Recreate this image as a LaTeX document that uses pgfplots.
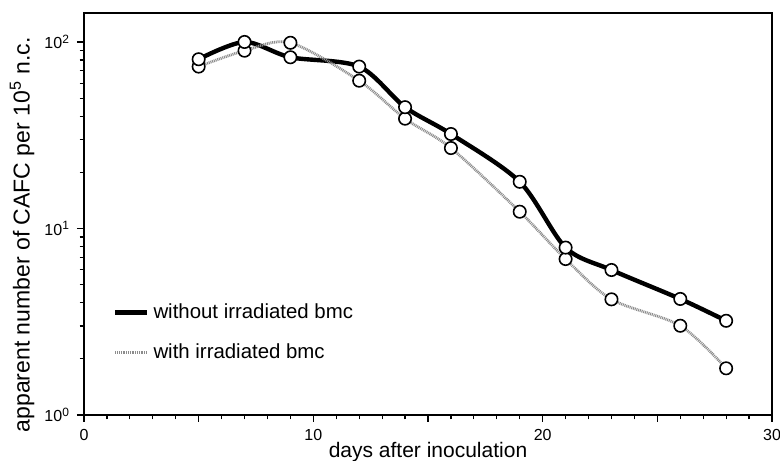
\documentclass[border=0pt]{standalone}
\usepackage{fontspec}
\setmainfont{Liberation Sans}
\usepackage{pgfplots}
\pgfplotsset{compat=1.18}
\begin{document}
\begin{tikzpicture}
\useasboundingbox (-42pt,-22.5pt) rectangle (348pt,207.5pt);
\begin{axis}[
  at={(0pt,0pt)}, anchor=south west,
  scale only axis, width=344pt, height=201pt,
  xmin=0, xmax=30, ymode=log, ymin=1, ymax=143,
  axis line style={line width=1pt},
  tick align=outside, xtick pos=bottom, ytick pos=left,
  xtick={0,5,...,30}, xticklabels={0,,10,,20,,30},
  minor x tick num=4,
  ytick={1,10,100}, yticklabels={10\textsuperscript{0},10\textsuperscript{1},10\textsuperscript{2}},
  minor ytick={2,3,4,5,6,7,8,9,20,30,40,50,60,70,80,90},
  major tick length=3.5pt, minor tick length=2.2pt,
  tick style={line width=0.6pt, black},
  xlabel={days after inoculation},
  ylabel={apparent number of CAFC per 10\textsuperscript{5} n.c.},
  every axis x label/.style={at={(axis description cs:0.5,0)}, yshift=-18.5pt, anchor=center, font=\fontsize{10.5}{11}\selectfont},
  every axis y label/.style={at={(axis description cs:-0.09,0.448)}, rotate=90, anchor=center, font=\fontsize{11.5}{12}\selectfont},
  tick label style={font=\fontsize{8}{9}\selectfont},
  legend style={draw=none, fill=none, at={(0.033,0.298)}, anchor=north west,
    font=\fontsize{10.2}{11}\selectfont, row sep=7pt},
  legend cell align=left,
  legend image code/.code={\draw[#1] (0pt,0pt) -- (16pt,0pt);},
]
% lines
\addplot[black, line width=2.2pt, smooth, forget plot] coordinates {
 (5,80.8) (7,100) (9,82.8) (12,73.8) (14,44.7) (16,32.1) (19,17.8) (21,7.9) (23,5.99) (26,4.19) (28,3.2)};
\addplot[black!45, line width=1.4pt, dash pattern=on 0.5pt off 0.4pt, smooth, forget plot] coordinates {
 (5,73.8) (7,89.8) (9,99) (12,62) (14,38.8) (16,27) (19,12.3) (21,6.86) (23,4.17) (26,3.01) (28,1.78)};
% markers
\addplot[only marks, mark=*, mark size=3.1pt, mark options={fill=white, draw=black, line width=0.8pt}, forget plot] coordinates {
 (5,73.8) (7,89.8) (9,99) (12,62) (14,38.8) (16,27) (19,12.3) (21,6.86) (23,4.17) (26,3.01) (28,1.78)};
\addplot[only marks, mark=*, mark size=3.1pt, mark options={fill=white, draw=black, line width=0.8pt}, forget plot] coordinates {
 (5,80.8) (7,100) (9,82.8) (12,73.8) (14,44.7) (16,32.1) (19,17.8) (21,7.9) (23,5.99) (26,4.19) (28,3.2)};
\addlegendimage{black, line width=2.2pt}
\addlegendentry{without irradiated bmc}
\addlegendimage{black!45, line width=1.4pt, dash pattern=on 0.5pt off 0.4pt}
\addlegendentry{with irradiated bmc}
\end{axis}
\end{tikzpicture}
\end{document}
